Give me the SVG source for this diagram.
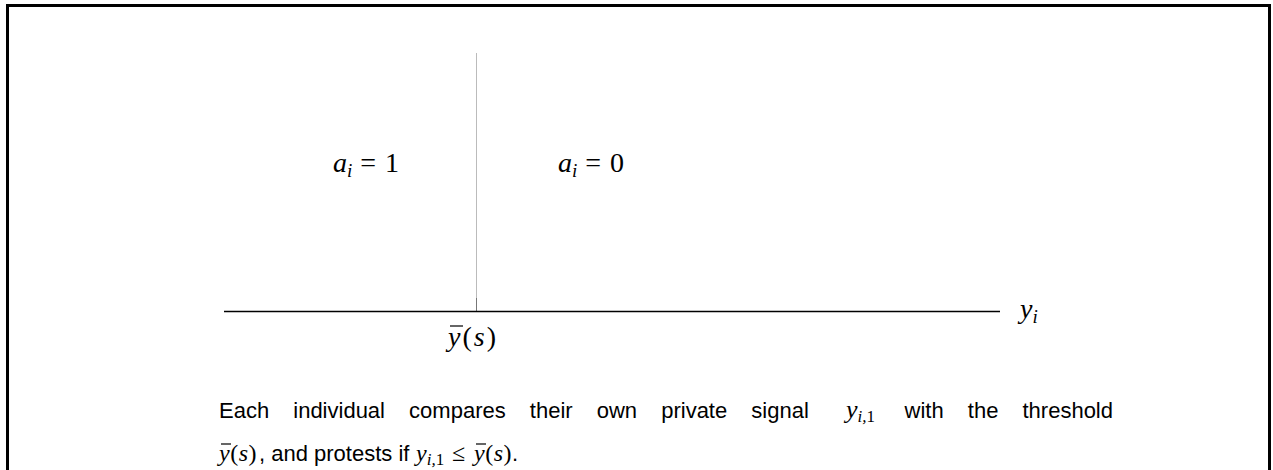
<svg xmlns="http://www.w3.org/2000/svg" width="1273" height="470" viewBox="0 0 1273 470">
<style>
.m{font-family:"Liberation Serif","DejaVu Serif",serif;font-size:28px;fill:#000}
.mi{font-style:italic}
.t{font-family:"Liberation Sans",Arial,sans-serif;font-size:22px;fill:#000}
.sub{font-size:19px}
.cm{font-family:"Liberation Serif","DejaVu Serif",serif;font-size:24px;fill:#000}
.cs{font-size:17px}
.bar{stroke:#000;stroke-width:1.2}
</style>
<rect x="7.5" y="5.5" width="1262" height="480" fill="#fff" stroke="#000" stroke-width="3"/>
<g id="connectors">
<line x1="476.5" y1="53" x2="476.5" y2="311" stroke="#bbb" stroke-width="1"/>
<line x1="476.5" y1="298" x2="476.5" y2="311" stroke="#777" stroke-width="1"/>
<line x1="224" y1="311.5" x2="1000" y2="311.5" stroke="#000" stroke-width="1.3"/>
</g>
<g id="region-left">
<text class="m" x="333" y="172"><tspan class="mi">a</tspan><tspan class="mi sub" dy="5">i</tspan><tspan dy="-5" letter-spacing="1"> = 1</tspan></text>
</g>
<g id="region-right">
<text class="m" x="558" y="172"><tspan class="mi">a</tspan><tspan class="mi sub" dy="5">i</tspan><tspan dy="-5" letter-spacing="1"> = 0</tspan></text>
</g>
<g id="threshold-label">
<text class="m" x="448" y="346" letter-spacing="2"><tspan class="mi">y</tspan><tspan>(</tspan><tspan class="mi">s</tspan><tspan>)</tspan></text>
<line class="bar" x1="450" y1="326" x2="463" y2="326"/>
</g>
<g id="axis-label">
<text class="m" x="1020" y="318"><tspan class="mi">y</tspan><tspan class="mi sub" dy="5">i</tspan></text>
</g>
<g id="caption">
<text class="t" x="219" y="418" word-spacing="18">Each individual compares their own private signal</text>
<text class="cm" x="846" y="418" style="font-size:26px"><tspan class="mi">y</tspan><tspan class="mi cs" dy="4">i,</tspan><tspan class="cs">1</tspan></text>
<text class="t" x="1113" y="418" text-anchor="end" word-spacing="18">with the threshold</text>
<text class="cm" x="219" y="461" letter-spacing="0.5"><tspan class="mi">y</tspan><tspan>(</tspan><tspan class="mi">s</tspan><tspan>)</tspan></text>
<line class="bar" x1="221" y1="444" x2="231" y2="444"/>
<text class="t" x="259" y="461">, and protests if</text>
<text class="cm" x="416" y="461"><tspan class="mi">y</tspan><tspan class="mi cs" dy="4">i,</tspan><tspan class="cs">1</tspan></text>
<text class="cm" x="452" y="461">≤</text>
<text class="cm" x="474" y="461" letter-spacing="0.5"><tspan class="mi">y</tspan><tspan>(</tspan><tspan class="mi">s</tspan><tspan>)</tspan></text>
<line class="bar" x1="476" y1="444" x2="486" y2="444"/>
<text class="t" x="512" y="461">.</text>
</g>
</svg>
